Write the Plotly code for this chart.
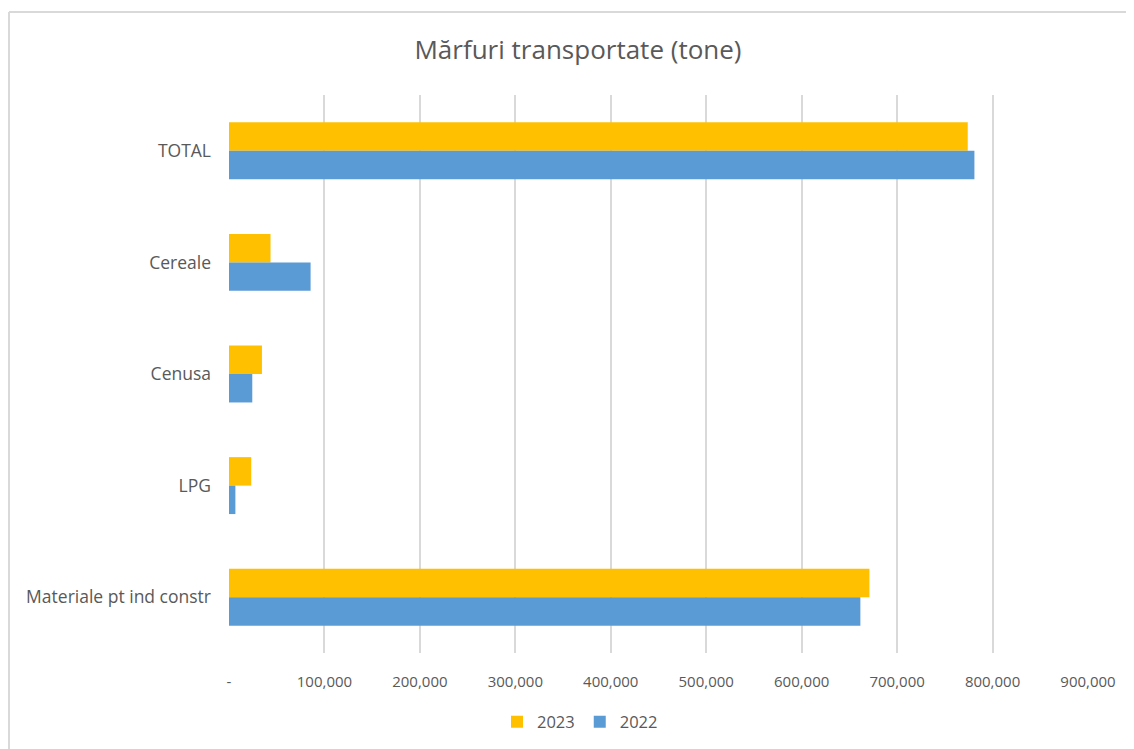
import plotly.graph_objects as go

categories = ["TOTAL", "Cereale", "Cenusa", "LPG", "Materiale pt ind constr"]
values_2023 = [774000, 43500, 34500, 23300, 671000]
values_2022 = [781000, 85500, 24400, 6700, 661500]
tick_values = [0, 100000, 200000, 300000, 400000, 500000, 600000, 700000, 800000, 900000]
tick_labels = ["-", "100,000", "200,000", "300,000", "400,000", "500,000",
               "600,000", "700,000", "800,000", "900,000"]

FONT = "Open Sans"
TXT = "#595959"
GRID = "#d9d9d9"

L, R, T, B = 221, 54, 87, 104
PW = 1134 - L - R
PH = 749 - T - B

fig = go.Figure()
fig.add_trace(go.Bar(name="2023", y=categories, x=values_2023, orientation="h",
                     marker=dict(color="#FFC000", line=dict(width=0))))
fig.add_trace(go.Bar(name="2022", y=categories, x=values_2022, orientation="h",
                     marker=dict(color="#5B9BD5", line=dict(width=0))))

fig.update_layout(
    width=1134, height=749,
    paper_bgcolor="white", plot_bgcolor="white",
    barmode="group", bargap=0.49, bargroupgap=0,
    margin=dict(l=L, r=R, t=T, b=B),
    font=dict(family=FONT, color=TXT, size=15),
    title=dict(text="Mărfuri transportate (tone)", x=570 / 1134, xanchor="center",
               y=1 - 42 / 749, yanchor="middle", xref="container", yref="container",
               font=dict(family=FONT, size=26, color=TXT)),
    legend=dict(orientation="h", xref="container", yref="container",
                x=572 / 1134, xanchor="center", y=1 - 714 / 749, yanchor="middle",
                font=dict(family=FONT, size=16.5, color=TXT), traceorder="normal",
                itemwidth=30),
    showlegend=True,
)
fig.update_xaxes(range=[0, 900000], tickvals=tick_values, ticktext=tick_labels,
                 showgrid=True, gridcolor=GRID, gridwidth=1.5, zeroline=False,
                 showline=False, ticks="", ticklabelstandoff=18,
                 tickfont=dict(family=FONT, size=15, color=TXT))
fig.update_yaxes(autorange="reversed", showgrid=False, showline=False, ticks="",
                 ticklabelstandoff=17, tickfont=dict(family=FONT, size=17.5, color=TXT))

# chart frame (top and left border, as in the cropped reference)
fx = -(L - 1) / PW
fy = 1 + (T - 4) / PH
fig.add_shape(type="line", xref="paper", yref="paper", x0=fx, x1=1.2,
              y0=fy, y1=fy, line=dict(color=GRID, width=2))
fig.add_shape(type="line", xref="paper", yref="paper", x0=fx, x1=fx,
              y0=-0.3, y1=fy, line=dict(color=GRID, width=2))

fig.write_html("out.html")
